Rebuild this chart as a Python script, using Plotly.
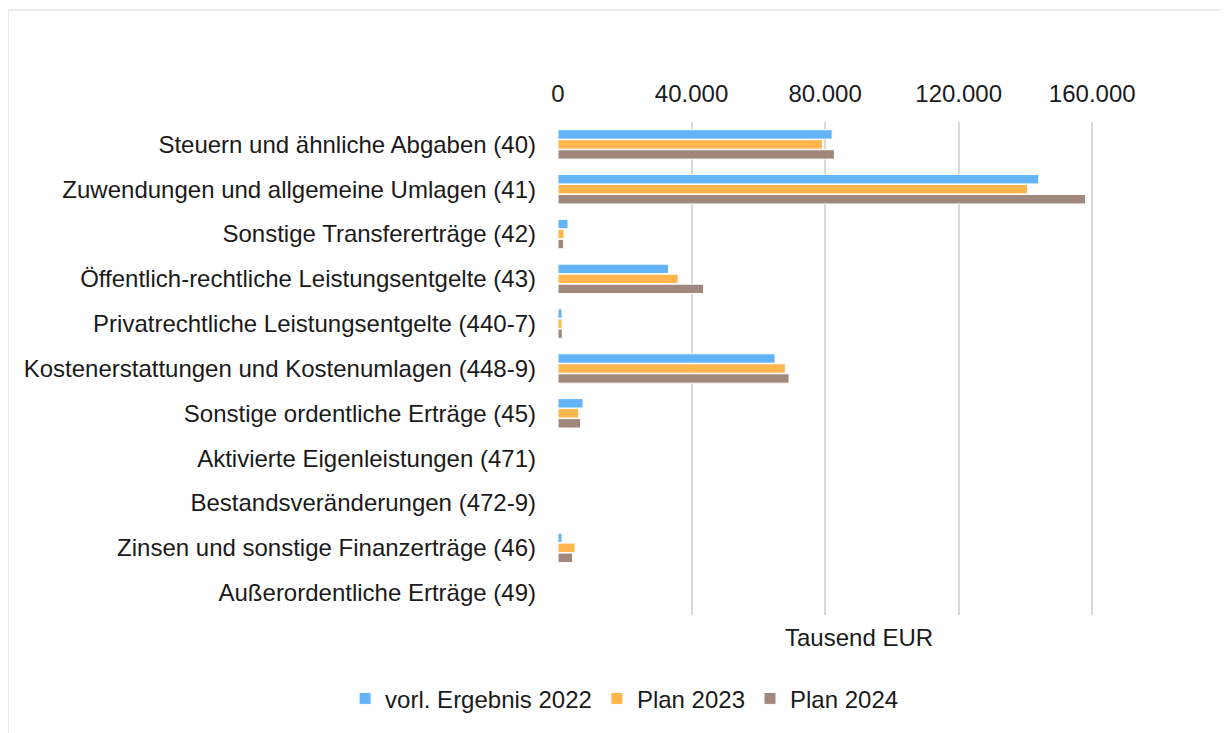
import plotly.graph_objects as go

categories = [
    "Steuern und ähnliche Abgaben (40)",
    "Zuwendungen und allgemeine Umlagen (41)",
    "Sonstige Transfererträge (42)",
    "Öffentlich-rechtliche Leistungsentgelte (43)",
    "Privatrechtliche Leistungsentgelte (440-7)",
    "Kostenerstattungen und Kostenumlagen (448-9)",
    "Sonstige ordentliche Erträge (45)",
    "Aktivierte Eigenleistungen (471)",
    "Bestandsveränderungen (472-9)",
    "Zinsen und sonstige Finanzerträge (46)",
    "Außerordentliche Erträge (49)",
]

ergebnis_2022 = [82100, 144000, 3000, 33100, 1200, 65000, 7500, 0, 0, 1200, 0]
plan_2023 = [79200, 140600, 1800, 36000, 1200, 68100, 6200, 0, 0, 5100, 0]
plan_2024 = [82800, 158000, 1700, 43600, 1300, 69200, 6800, 0, 0, 4400, 0]

series = [
    ("vorl. Ergebnis 2022", ergebnis_2022, "#63B4F6"),
    ("Plan 2023", plan_2023, "#FFB54D"),
    ("Plan 2024", plan_2024, "#A1887D"),
]

tick_vals = [0, 40000, 80000, 120000, 160000]
tick_text = ["0", "40.000", "80.000", "120.000", "160.000"]

fig = go.Figure()
for name, vals, color in series:
    fig.add_trace(go.Bar(
        y=categories, x=vals, name=name, orientation="h",
        marker=dict(color=color, line=dict(color="white", width=1)),
    ))

# page body adds 8px offset, margins compensate
fig.update_layout(
    width=1229, height=733,
    barmode="group", bargap=0.33, bargroupgap=0.06,
    plot_bgcolor="white", paper_bgcolor="white",
    font=dict(family="Liberation Sans, Arial, sans-serif", size=24, color="#1a1a1a"),
    margin=dict(l=550, r=78, t=114, b=126),
    xaxis=dict(
        side="top", range=[0, 180000], tickvals=tick_vals, ticktext=tick_text,
        showgrid=True, gridcolor="#D9D9D9", gridwidth=2,
        zeroline=False, showline=False, ticks="", ticklabelstandoff=14,
    ),
    yaxis=dict(
        autorange="reversed", showgrid=False, zeroline=False, showline=False,
        ticks="", ticklabelstandoff=21,
    ),
    legend=dict(
        orientation="h", x=0.11, xanchor="center", xref="paper",
        y=-0.17, yanchor="middle", font=dict(size=24),
        itemwidth=30, tracegroupgap=0,
    ),
    annotations=[dict(
        text="Tausend EUR", x=0.5, xref="paper", y=-0.045, yref="paper",
        showarrow=False, yanchor="middle", font=dict(size=24),
    )],
    shapes=[dict(
        type="rect", xref="paper", yref="paper",
        x0=(8 - 558) / 601, x1=(1226 - 558) / 601,
        y0=(615 - 740) / 493, y1=(615 - 10) / 493,
        line=dict(color="#D9D9D9", width=1), layer="below",
    )],
)

fig.write_html("out.html")
